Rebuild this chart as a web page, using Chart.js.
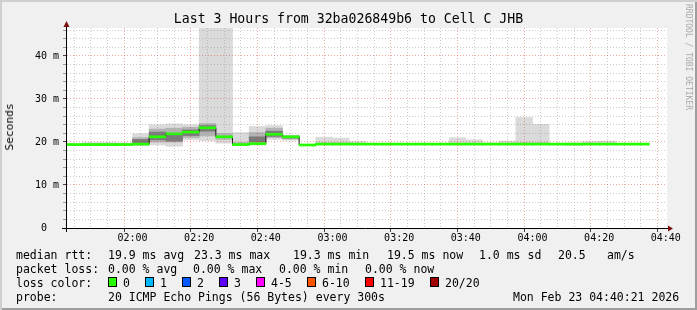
<!DOCTYPE html>
<html>
<head>
<meta charset="utf-8">
<script src="https://cdn.jsdelivr.net/npm/chart.js@4.4.1/dist/chart.umd.min.js"></script>
<style>
  body { margin: 0; background: #f0f0f0; }
  #page {
    position: relative; width: 697px; height: 310px; overflow: hidden;
    background: #f0f0f0;
    box-shadow: inset 2px 2px 0 #cfcfcf, inset -2px -2px 0 #9e9e9e;
    font-family: "DejaVu Sans Mono", monospace; color: #000;
  }
  #chart { position: absolute; left: 0; top: 0; }
  .t { position: absolute; white-space: pre; font-size: 11.5px; line-height: 14px; }
  #title { position: absolute; left: 0; width: 697px; top: 11px; text-align: center; font-size: 13.2px; line-height: 16px; white-space: pre; }
  #ylabel { position: absolute; left: 10px; top: 127px; font-size: 11.2px; line-height: 14px; transform: translate(-50%, -50%) rotate(-90deg); white-space: pre; }
  #mark { position: absolute; left: 689px; top: 4px; font-size: 8px; line-height: 9px; color: #a9a9a9; transform-origin: 0 0; transform: translate(4px, 0) rotate(90deg); white-space: pre; }
  .box { position: absolute; top: 277px; width: 7px; height: 8px; border: 1px solid #000; }
</style>
</head>
<body>
<div id="page">
  <canvas id="chart" width="697" height="310"></canvas>
  <div id="title">Last 3 Hours from 32ba026849b6 to Cell C JHB</div>
  <div id="ylabel">Seconds</div>
  <div id="mark">RRDTOOL / TOBI OETIKER</div>

  <div class="t" style="left:16px;top:248px">median rtt:</div>
  <div class="t" style="left:108px;top:248px">19.9 ms avg</div>
  <div class="t" style="left:194px;top:248px">23.3 ms max</div>
  <div class="t" style="left:293px;top:248px">19.3 ms min</div>
  <div class="t" style="left:387px;top:248px">19.5 ms now</div>
  <div class="t" style="left:479px;top:248px">1.0 ms sd</div>
  <div class="t" style="left:558px;top:248px">20.5</div>
  <div class="t" style="left:607px;top:248px">am/s</div>

  <div class="t" style="left:16px;top:262px">packet loss:</div>
  <div class="t" style="left:108px;top:262px">0.00 % avg</div>
  <div class="t" style="left:193px;top:262px">0.00 % max</div>
  <div class="t" style="left:279px;top:262px">0.00 % min</div>
  <div class="t" style="left:365px;top:262px">0.00 % now</div>

  <div class="t" style="left:16px;top:276px">loss color:</div>
  <div id="losslegend"></div>

  <div class="t" style="left:16px;top:290px">probe:</div>
  <div class="t" style="left:108px;top:290px">20 ICMP Echo Pings (56 Bytes) every 300s</div>
  <div class="t" style="left:513px;top:290px">Mon Feb 23 04:40:21 2026</div>
</div>
<script>
// 5 minute slots, start time of each step
const slotTimes = ['01:40','01:45','01:50','01:55','02:00','02:05','02:10','02:15','02:20','02:25',
                   '02:30','02:35','02:40','02:45','02:50','02:55','03:00','03:05','03:10','03:15',
                   '03:20','03:25','03:30','03:35','03:40','03:45','03:50','03:55','04:00','04:05',
                   '04:10','04:15','04:20','04:25','04:30','04:35'];

// median rtt (ms)
const medianRtt = [19.4,19.4,19.4,19.4,19.5,21.2,21.9,22.3,23.3,21.2,
                   19.4,19.6,21.8,21.2,19.3,19.5,19.5,19.5,19.5,19.5,
                   19.5,19.5,19.5,19.5,19.5,19.5,19.5,19.5,19.5,19.5,
                   19.5,19.5,19.5,19.5,19.5,null];

// smoke: full spread of the 20 pings
const minRtt = [19.2,19.2,19.2,19.2,19.1,19.3,19.0,20.5,20.3,19.7,
                19.3,19.3,20.6,20.4,19.2,19.4,19.4,19.4,19.4,19.4,
                19.4,19.4,19.4,19.4,19.4,19.4,19.4,19.4,19.4,19.4,
                19.2,19.4,19.4,19.4,19.4,null];
const maxRtt = [19.6,19.9,19.9,19.8,21.9,24.0,24.2,24.0,48,48,
                22.2,23.6,23.8,21.6,19.4,21.1,20.9,20.1,19.7,19.7,
                19.7,19.7,19.7,21.0,20.5,19.8,20.2,25.7,24.1,19.7,
                19.8,20.1,20.2,19.7,19.7,null];

// smoke: middle part of the pings
const lowRtt = [19.3,19.3,19.3,19.3,19.5,20.0,20.0,21.0,21.4,20.6,
                19.4,19.7,21.0,20.7,19.3,19.5,19.5,19.5,19.5,19.5,
                19.5,19.5,19.5,19.5,19.5,19.5,19.5,19.5,19.5,19.5,
                19.4,19.5,19.5,19.5,19.5,null];
const highRtt = [19.5,19.6,19.6,19.6,21.0,23.0,23.2,23.4,24.3,22.0,
                 19.9,22.2,23.2,21.5,19.4,19.8,19.8,19.7,19.6,19.6,
                 19.6,19.6,19.6,19.7,19.7,19.6,19.7,19.8,19.8,19.6,
                 19.6,19.7,19.7,19.6,19.6,null];

// smoke: dark core around the median
const coreLow = [null,null,null,null,19.8,20.5,20.2,21.5,22.5,null,
                 null,20.0,21.3,20.9,null,null,null,null,null,null,
                 null,null,null,null,null,null,null,null,null,null,
                 null,null,null,null,null,null];
const coreHigh = [null,null,null,null,20.6,22.3,21.9,22.8,23.8,null,
                  null,21.2,22.5,21.3,null,null,null,null,null,null,
                  null,null,null,null,null,null,null,null,null,null,
                  null,null,null,null,null,null];

const lossLabels = ['0','1','2','3','4-5','6-10','11-19','20/20'];
const lossColors = ['#26ff00','#00b8ff','#0059ff','#5e00ff','#ff00ff','#ff5500','#ff0000','#a10000'];

const graphStart = '01:40:21';
const graphHours = 3;

const GRID = 'rgba(140,140,140,0.45)';
const MGRID = 'rgba(222,48,32,0.42)';

function toMinutes(s) {
    const p = s.split(':').map(Number);
    return p[0] * 60 + p[1] + (p[2] || 0) / 60;
}
function fmtTime(v) {
    const h = Math.floor(v / 60), m = Math.round(v % 60);
    return String(h).padStart(2, '0') + ':' + String(m).padStart(2, '0');
}

function bandData(lo, hi) {
    const out = [];
    slotTimes.forEach((t, i) => {
        if (lo[i] == null || hi[i] == null) return;
        out.push({ x: toMinutes(t) + 2.5, y: [lo[i], hi[i]] });
    });
    return out;
}

const medLow = medianRtt.map(v => v == null ? null : v - 0.24);
const medHigh = medianRtt.map(v => v == null ? null : v + 0.24);

// step outline of the median (dark risers)
let stepPts = [];
slotTimes.forEach((t, i) => {
    if (medianRtt[i] != null) stepPts.push({ x: toMinutes(t), y: medianRtt[i] });
});
let lastPt = stepPts[stepPts.length - 1];
stepPts.push({ x: lastPt.x + 5, y: lastPt.y });

// loss color legend
let lossHtml = '';
const boxLeft = [108, 145, 182, 219, 256, 307, 365, 430];
lossLabels.forEach((lab, i) => {
    lossHtml += '<div class="box" style="left:' + boxLeft[i] + 'px;background:' + lossColors[i] + '"></div>';
    lossHtml += '<div class="t" style="left:' + (boxLeft[i] + 15) + 'px;top:276px">' + lab + '</div>';
});
document.getElementById('losslegend').innerHTML = lossHtml;

const xMin = toMinutes(graphStart);
const xMax = xMin + graphHours * 60;

const framePlugin = {
    id: 'frame',
    beforeDraw(chart) {
        const { ctx, chartArea: a } = chart;
        ctx.save();
        ctx.fillStyle = '#ffffff';
        ctx.fillRect(a.left, a.top, a.right - a.left, a.bottom - a.top);
        ctx.restore();
    },
    afterDraw(chart) {
        const { ctx, chartArea: a } = chart;
        const x0 = a.left - 0.5, y0 = a.bottom + 0.5;
        ctx.save();
        ctx.strokeStyle = '#000';
        ctx.lineWidth = 1;
        ctx.beginPath();
        ctx.moveTo(x0, a.bottom + 4);
        ctx.lineTo(x0, a.top - 2);
        ctx.moveTo(a.left - 5, y0);
        ctx.lineTo(a.right + 2, y0);
        ctx.stroke();
        ctx.fillStyle = '#7f1010';
        ctx.beginPath();
        ctx.moveTo(x0, a.top - 7);
        ctx.lineTo(x0 - 3, a.top - 1);
        ctx.lineTo(x0 + 3, a.top - 1);
        ctx.closePath();
        ctx.fill();
        ctx.beginPath();
        ctx.moveTo(a.right + 6, y0);
        ctx.lineTo(a.right + 1, y0 - 3);
        ctx.lineTo(a.right + 1, y0 + 3);
        ctx.closePath();
        ctx.fill();
        ctx.restore();
    }
};

Chart.defaults.font.family = "'DejaVu Sans Mono', monospace";
Chart.defaults.color = '#000';

const barCommon = { type: 'bar', grouped: false, barPercentage: 1, categoryPercentage: 1, borderWidth: 0 };

new Chart(document.getElementById('chart'), {
    type: 'bar',
    data: {
        datasets: [
            Object.assign({ data: bandData(medLow, medHigh), backgroundColor: '#26ff00', order: 0 }, barCommon),
            { type: 'line', data: stepPts, stepped: 'before', borderColor: '#1a1a1a', borderWidth: 1,
              pointRadius: 0, fill: false, order: 1 },
            Object.assign({ data: bandData(coreLow, coreHigh), backgroundColor: '#7a7a7a', order: 2 }, barCommon),
            Object.assign({ data: bandData(lowRtt, highRtt), backgroundColor: '#b3b3b3', order: 3 }, barCommon),
            Object.assign({ data: bandData(minRtt, maxRtt), backgroundColor: '#dadada', order: 4 }, barCommon)
        ]
    },
    options: {
        responsive: false,
        animation: false,
        devicePixelRatio: 1,
        layout: { padding: { top: 28, right: 30, left: 0, bottom: 0 } },
        plugins: { legend: { display: false }, tooltip: { enabled: false } },
        scales: {
            x: {
                type: 'linear',
                min: xMin,
                max: xMax,
                offset: false,
                afterBuildTicks(scale) {
                    const ticks = [];
                    for (let v = Math.ceil(scale.min / 5) * 5; v <= scale.max; v += 5) ticks.push({ value: v });
                    scale.ticks = ticks;
                },
                afterFit(scale) { scale.height = 82; },
                ticks: {
                    autoSkip: false, maxRotation: 0, padding: 0,
                    font: { size: 10 },
                    callback: v => (v % 20 === 0 ? fmtTime(v) : '')
                },
                grid: {
                    z: 1,
                    tickLength: 4,
                    color: c => (c.tick && c.tick.value % 20 === 0 ? MGRID : GRID),
                    tickColor: c => (c.tick && c.tick.value % 20 === 0 ? '#444' : 'rgba(0,0,0,0)')
                },
                border: { display: false, dash: [1, 2] }
            },
            y: {
                type: 'linear',
                min: 0,
                max: 46.5,
                afterBuildTicks(scale) {
                    const ticks = [];
                    for (let v = 0; v <= scale.max; v += 2) ticks.push({ value: v });
                    scale.ticks = ticks;
                },
                afterFit(scale) { scale.width = 67; },
                ticks: {
                    autoSkip: false, padding: 4,
                    font: { size: 10 },
                    callback: v => (v % 10 === 0 ? (v === 0 ? '0  ' : v + ' m') : '')
                },
                grid: {
                    z: 1,
                    tickLength: 4,
                    color: c => (c.tick && c.tick.value % 10 === 0 ? MGRID : GRID),
                    tickColor: c => (c.tick && c.tick.value % 10 === 0 ? '#444' : '#999')
                },
                border: { display: false, dash: [1, 2] }
            }
        }
    },
    plugins: [framePlugin]
});
</script>
</body>
</html>
